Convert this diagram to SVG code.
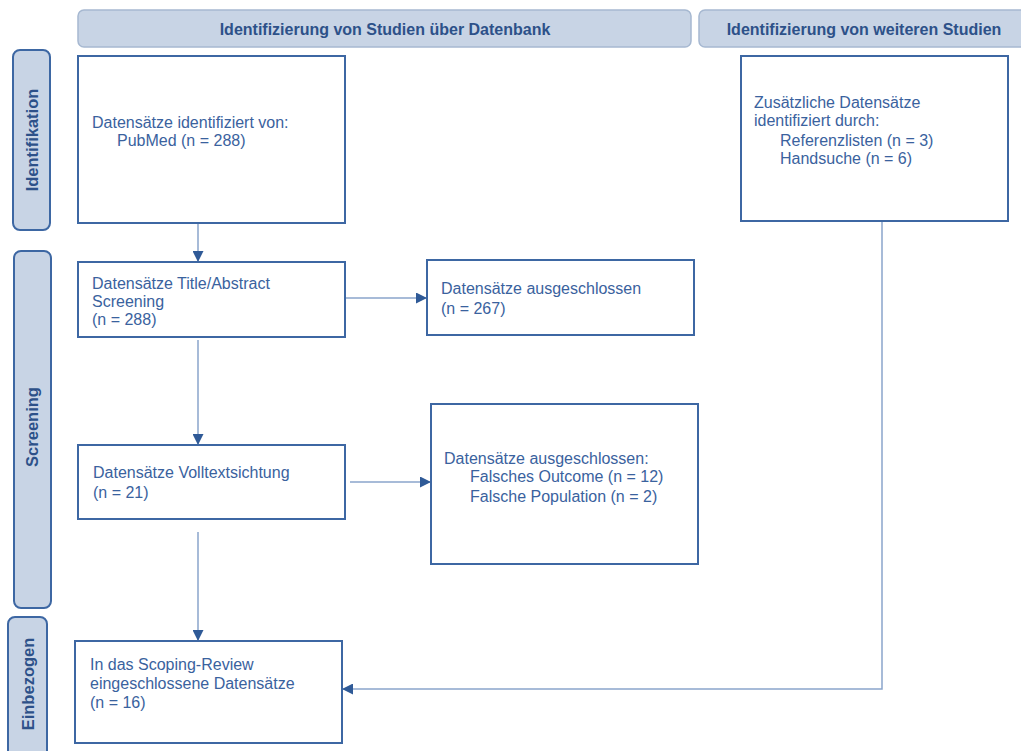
<svg xmlns="http://www.w3.org/2000/svg" width="1021" height="751" viewBox="0 0 1021 751">
<style>
.hdr{fill:#c8d4e5;stroke:#a6b8d1;stroke-width:1.5}
.side{fill:#c8d4e5;stroke:#3d67a3;stroke-width:2}
.box{fill:#fff;stroke:#3d67a3;stroke-width:2}
.t{font-family:"Liberation Sans",Arial,sans-serif;font-size:16px;fill:#3a629e}
.h{font-family:"Liberation Sans",Arial,sans-serif;font-size:16px;font-weight:bold;fill:#2d5189}
.v{font-family:"Liberation Sans",Arial,sans-serif;font-size:16.5px;font-weight:bold;fill:#2d5189}
.c{fill:none;stroke:#8aa5cb;stroke-width:1.5}
</style>
<defs>
<marker id="ah2" viewBox="0 0 10 10" refX="10" refY="5" markerWidth="11" markerHeight="11" markerUnits="userSpaceOnUse" orient="auto"><path d="M0,0 L10,5 L0,10 z" fill="#2f5a97"/></marker>
</defs>
<rect width="1021" height="751" fill="#fff"/>
<g id="header1"><rect class="hdr" x="78" y="10" width="613" height="37" rx="6"/><text class="h" x="385" y="35" text-anchor="middle">Identifizierung von Studien über Datenbank</text></g>
<g id="header2"><rect class="hdr" x="699" y="10" width="330" height="37" rx="6"/><text class="h" x="864" y="35" text-anchor="middle">Identifizierung von weiteren Studien</text></g>
<g id="side-identifikation"><rect class="side" x="13" y="50" width="37" height="180" rx="7"/><text class="v" transform="translate(38,140) rotate(-90)" text-anchor="middle">Identifikation</text></g>
<g id="side-screening"><rect class="side" x="14" y="251" width="37" height="357" rx="7"/><text class="v" transform="translate(38,427) rotate(-90)" text-anchor="middle">Screening</text></g>
<g id="side-einbezogen"><rect class="side" x="8" y="617" width="39" height="150" rx="7"/><text class="v" transform="translate(34,684) rotate(-90)" text-anchor="middle">Einbezogen</text></g>
<g id="connectors">
<line class="c" x1="198" y1="223" x2="198" y2="262" marker-end="url(#ah2)"/>
<line class="c" x1="198" y1="340" x2="198" y2="445" marker-end="url(#ah2)"/>
<line class="c" x1="198" y1="532" x2="198" y2="641" marker-end="url(#ah2)"/>
<line class="c" x1="345" y1="298" x2="427" y2="298" marker-end="url(#ah2)"/>
<line class="c" x1="350" y1="482" x2="431" y2="482" marker-end="url(#ah2)"/>
<polyline class="c" points="882,221 882,689 342,689" marker-end="url(#ah2)"/>
</g>
<g id="n-identified"><rect class="box" x="78" y="56" width="267" height="167"/><text class="t" x="92" y="128">Datensätze identifiziert von:</text><text class="t" x="117" y="146">PubMed (n = 288)</text></g>
<g id="n-additional"><rect class="box" x="741" y="56" width="267" height="165"/><text class="t" x="754" y="108">Zusätzliche Datensätze</text><text class="t" x="754" y="126">identifiziert durch:</text><text class="t" x="780" y="146">Referenzlisten (n = 3)</text><text class="t" x="780" y="164">Handsuche (n = 6)</text></g>
<g id="n-screening"><rect class="box" x="78" y="262" width="267" height="75"/><text class="t" x="92" y="289">Datensätze Title/Abstract</text><text class="t" x="92" y="307">Screening</text><text class="t" x="92" y="325">(n = 288)</text></g>
<g id="n-excluded1"><rect class="box" x="427" y="260" width="267" height="75"/><text class="t" x="441" y="294">Datensätze ausgeschlossen</text><text class="t" x="441" y="314">(n = 267)</text></g>
<g id="n-fulltext"><rect class="box" x="78" y="445" width="267" height="74"/><text class="t" x="93" y="478">Datensätze Volltextsichtung</text><text class="t" x="93" y="498">(n = 21)</text></g>
<g id="n-excluded2"><rect class="box" x="431" y="404" width="267" height="160"/><text class="t" x="444" y="464">Datensätze ausgeschlossen:</text><text class="t" x="470" y="482">Falsches Outcome (n = 12)</text><text class="t" x="470" y="502">Falsche Population (n = 2)</text></g>
<g id="n-included"><rect class="box" x="75" y="641" width="267" height="102"/><text class="t" x="90" y="670">In das Scoping-Review</text><text class="t" x="90" y="689">eingeschlossene Datensätze</text><text class="t" x="90" y="708">(n = 16)</text></g>
</svg>
